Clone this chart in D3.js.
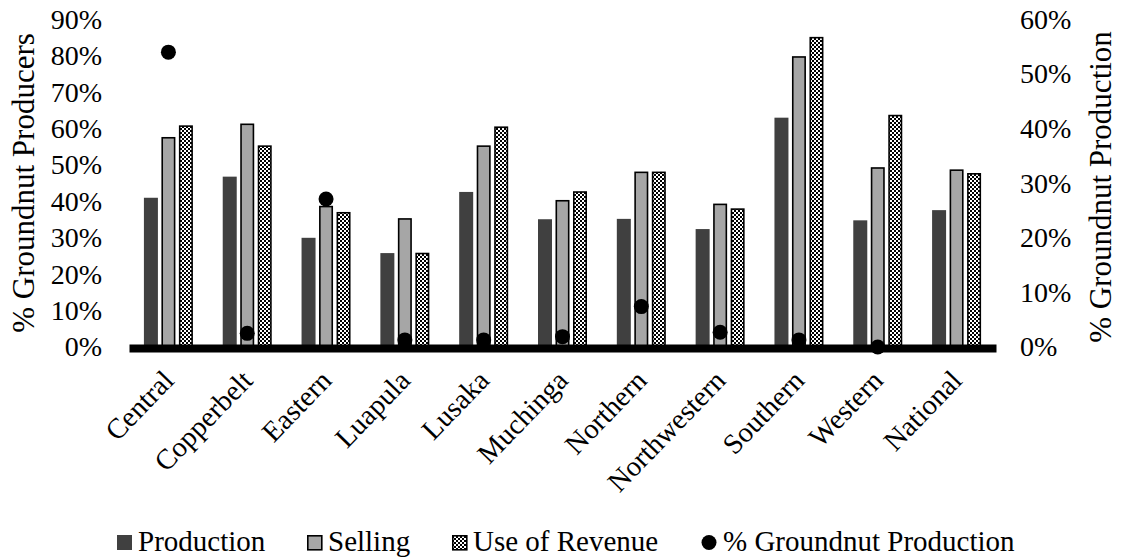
<!DOCTYPE html>
<html>
<head>
<meta charset="utf-8">
<script src="https://cdn.jsdelivr.net/npm/d3@7"></script>
<style>
  html, body { margin: 0; padding: 0; background: #fff; }
  svg { display: block; }
</style>
</head>
<body>
<svg id="chart" width="1122" height="559"></svg>
<script>
// ---- data ----
const categories = ["Central", "Copperbelt", "Eastern", "Luapula", "Lusaka", "Muchinga",
  "Northern", "Northwestern", "Southern", "Western", "National"];
const production = [41, 46.8, 30, 25.8, 42.6, 35.1, 35.2, 32.4, 63, 34.8, 37.6];
const selling = [57.7, 61.4, 38.8, 35.4, 55.4, 40.4, 48.2, 39.4, 79.9, 49.4, 48.8];
const useOfRevenue = [60.9, 55.4, 37.1, 25.9, 60.6, 42.8, 48.2, 38.1, 85.2, 63.8, 47.8];
const groundnutShare = [54, 2.5, 27.1, 1.3, 1.3, 1.9, 7.4, 2.7, 1.3, 0, null];
const leftTicks = [0, 10, 20, 30, 40, 50, 60, 70, 80, 90];
const rightTicks = [0, 10, 20, 30, 40, 50, 60];
const seriesNames = ["Production", "Selling", "Use of Revenue"];
const legendLabels = ["Production", "Selling", "Use of Revenue", "% Groundnut Production"];
const yLeftTitle = "% Groundnut Producers";
const yRightTitle = "% Groundnut Production";

// ---- layout ----
const FONT = "Liberation Serif";
const svg = d3.select("#chart");
const plotL = 129, plotR = 996, plotB = 347, plotT = 19.4;

const defs = svg.append("defs");
const pat = defs.append("pattern").attr("id", "checker")
  .attr("patternUnits", "userSpaceOnUse").attr("width", 4).attr("height", 4);
pat.append("rect").attr("width", 4).attr("height", 4).attr("fill", "#fff");
pat.append("rect").attr("x", 0).attr("y", 0).attr("width", 2).attr("height", 2).attr("fill", "#000");
pat.append("rect").attr("x", 2).attr("y", 2).attr("width", 2).attr("height", 2).attr("fill", "#000");

const x = d3.scaleBand().domain(categories).range([plotL, plotR]).padding(0);
const x1 = d3.scaleBand().domain(seriesNames).range([-24.5, 24.5]).paddingInner(0.2).paddingOuter(0);
const yL = d3.scaleLinear().domain([0, 90]).range([plotB, plotT]);
const yR = d3.scaleLinear().domain([0, 60]).range([plotB, plotT]);

const seriesData = [
  { name: "Production", values: production, fill: "#404040", stroke: "none", sw: 0 },
  { name: "Selling", values: selling, fill: "#a6a6a6", stroke: "#000", sw: 1.6 },
  { name: "Use of Revenue", values: useOfRevenue, fill: "url(#checker)", stroke: "#000", sw: 1.6 }
];

const bw = x1.bandwidth();
seriesData.forEach(s => {
  svg.append("g").selectAll("rect")
    .data(categories.map((c, i) => ({ c, v: s.values[i] })))
    .join("rect")
    .attr("x", d => x(d.c) + x.bandwidth() / 2 + x1(s.name) + s.sw / 2)
    .attr("y", d => yL(d.v) + s.sw / 2)
    .attr("width", bw - s.sw)
    .attr("height", d => yL(0) - yL(d.v) - s.sw / 2)
    .attr("fill", s.fill)
    .attr("stroke", s.stroke)
    .attr("stroke-width", s.sw);
});

// x axis (thick baseline)
const xAxis = svg.append("g").attr("transform", `translate(0,${plotB + 1})`)
  .call(d3.axisBottom(x).tickSize(0).tickSizeOuter(0).tickPadding(0));
xAxis.attr("font-family", FONT).attr("font-size", 28.5);
xAxis.select(".domain").attr("stroke", "#000").attr("stroke-width", 8);
xAxis.selectAll(".tick text")
  .attr("fill", "#000")
  .attr("text-anchor", "end")
  .attr("dy", 0)
  .attr("y", 0)
  .attr("transform", "translate(7,34) rotate(-46)");

// left axis
const la = svg.append("g").attr("transform", `translate(${plotL},0)`)
  .call(d3.axisLeft(yL).tickValues(leftTicks).tickFormat(d => d + "%").tickSize(0).tickPadding(27));
la.attr("font-family", FONT).attr("font-size", 28);
la.select(".domain").remove();
la.selectAll("text").attr("fill", "#000");

// right axis
const ra = svg.append("g").attr("transform", `translate(${plotR},0)`)
  .call(d3.axisRight(yR).tickValues(rightTicks).tickFormat(d => d + "%").tickSize(0).tickPadding(24));
ra.attr("font-family", FONT).attr("font-size", 28);
ra.select(".domain").remove();
ra.selectAll("text").attr("fill", "#000");

// axis titles
svg.append("text").attr("transform", "translate(34,183) rotate(-90)")
  .attr("text-anchor", "middle").attr("font-size", 31).attr("font-family", FONT).text(yLeftTitle);
svg.append("text").attr("transform", "translate(1111,187) rotate(-90)")
  .attr("text-anchor", "middle").attr("font-size", 31).attr("font-family", FONT).text(yRightTitle);

// dots (secondary axis)
svg.append("g").selectAll("circle")
  .data(categories.map((c, i) => ({ c, v: groundnutShare[i] })).filter(d => d.v != null))
  .join("circle")
  .attr("cx", d => x(d.c) + x.bandwidth() / 2)
  .attr("cy", d => yR(d.v))
  .attr("r", 7.5)
  .attr("fill", "#000");

// legend
const lg = svg.append("g");
const legendPos = [117, 307, 452, 701];
const textPos = [138, 328, 473, 723];
lg.append("rect").attr("x", legendPos[0]).attr("y", 535).attr("width", 15).attr("height", 15).attr("fill", "#404040");
lg.append("rect").attr("x", legendPos[1] + 0.8).attr("y", 535.8).attr("width", 14).attr("height", 14)
  .attr("fill", "#a6a6a6").attr("stroke", "#000").attr("stroke-width", 1.6);
lg.append("rect").attr("x", legendPos[2] + 0.8).attr("y", 535.8).attr("width", 14).attr("height", 14)
  .attr("fill", "url(#checker)").attr("stroke", "#000").attr("stroke-width", 1.6);
lg.append("circle").attr("cx", legendPos[3] + 8).attr("cy", 542.5).attr("r", 7.5).attr("fill", "#000");
legendLabels.forEach((t, i) => {
  lg.append("text").attr("x", textPos[i]).attr("y", 551).attr("font-size", 29).attr("font-family", FONT).text(t);
});
</script>
</body>
</html>
